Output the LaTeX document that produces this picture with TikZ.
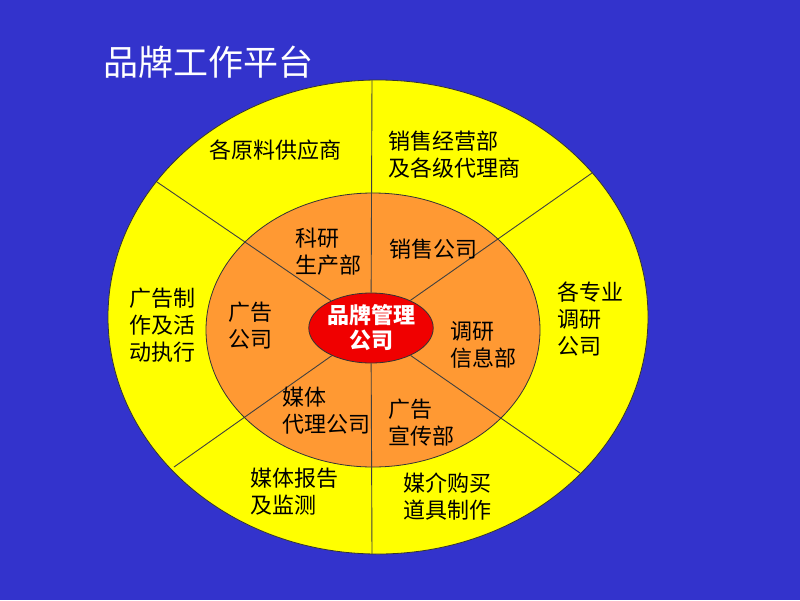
\documentclass[tikz,border=0pt]{standalone}
\usepackage{fontspec}
\newfontfamily\cjk{Noto Sans CJK SC}
\usetikzlibrary{positioning, shapes.geometric}
\definecolor{colorbg}{HTML}{3333CC}
\definecolor{colorring}{HTML}{FFFF00}
\definecolor{colorinner}{HTML}{FF9933}
\definecolor{colorcore}{HTML}{F00000}
\tikzstyle{ring}=[draw=black!80, ellipse, inner sep=0pt, line width=.8pt]
\tikzstyle{divider}=[draw=black!75, line width=.9pt]
\tikzstyle{dept}=[font=\cjk\fontsize{22}{27}\selectfont, align=left, inner sep=0pt, anchor=west]

\begin{document}
\begin{tikzpicture}[x=1pt, y=-1pt]
\fill[colorbg] (0,0) rectangle (800,600);
\node[font=\cjk\fontsize{35}{35}\selectfont, text=white] (title) at (208,62) {品牌工作平台};

\node[ring, fill=colorring, minimum width=540pt, minimum height=474pt](outer) at (378,317){};
\node[ring, fill=colorinner, minimum width=334pt, minimum height=274pt](inner) at (373,330){};
\node[ring, fill=colorcore, minimum width=114pt, minimum height=70pt, text=white,
  font=\cjk\bfseries\fontsize{22}{25}\selectfont, align=center](core) at (371,328){品牌管理\\公司};

% dividers from the outer ring to the core
\coordinate (top) at (372,80);
\coordinate (bot) at (372,554);
\coordinate (ul) at (157,182);
\coordinate (ur) at (592,173);
\coordinate (ll) at (174,467);
\coordinate (lr) at (580,473);
\foreach \p in {top, bot, ul, ur, ll, lr}
  \draw[divider] (\p) -- (core);

% outer ring
\node[dept] (supply) at (209,150) {各原料供应商};
\node[dept] (sales) at (388,155) {销售经营部\\及各级代理商};
\node[dept] (adprod) at (129,325) {广告制\\作及活\\动执行};
\node[dept] (survey) at (557,319) {各专业\\调研\\公司};
\node[dept] (report) at (250,492) {媒体报告\\及监测};
\node[dept] (buy) at (403,497) {媒介购买\\道具制作};

% inner ring
\node[dept] (rnd) at (295,252) {科研\\生产部};
\node[dept] (salesco) at (389,249) {销售公司};
\node[dept] (adco) at (228,326) {广告\\公司};
\node[dept] (info) at (450,345) {调研\\信息部};
\node[dept] (agency) at (282,411) {媒体\\代理公司};
\node[dept] (promo) at (388,423) {广告\\宣传部};
\end{tikzpicture}
\end{document}
